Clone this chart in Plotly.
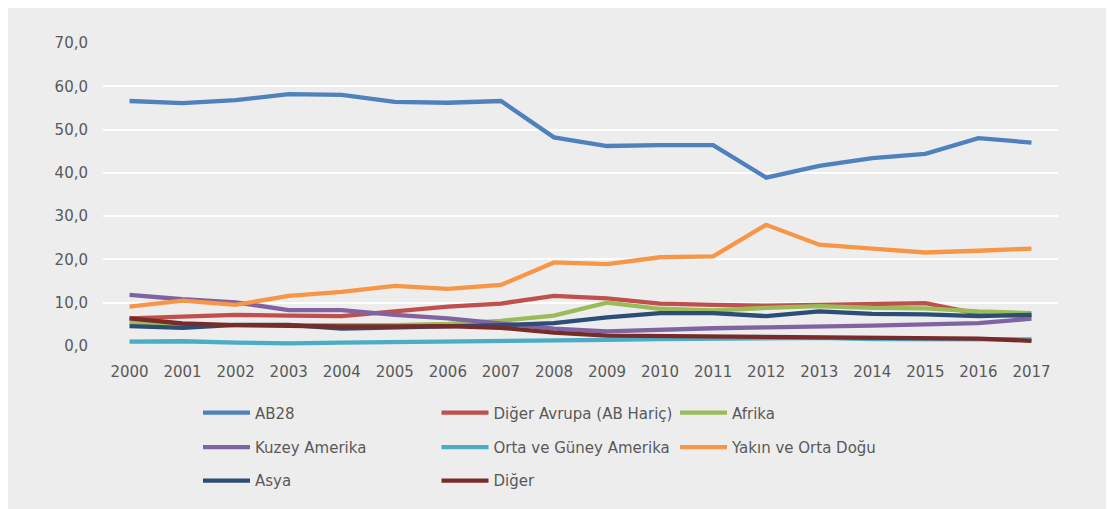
import plotly.graph_objects as go

years = list(range(2000, 2018))

ab28 = [56.6, 56.1, 56.8, 58.2, 58.0, 56.4, 56.2, 56.6, 48.2, 46.2, 46.4, 46.4, 38.9, 41.6, 43.4, 44.4, 48.0, 47.0]
diger_avrupa = [6.4, 6.7, 7.2, 7.0, 6.9, 8.0, 9.1, 9.8, 11.6, 11.0, 9.8, 9.5, 9.3, 9.5, 9.7, 9.9, 7.4, 6.9]
afrika = [5.5, 4.8, 4.8, 4.8, 4.8, 4.8, 5.1, 5.8, 7.0, 10.0, 8.6, 8.2, 8.8, 9.2, 8.8, 8.7, 8.0, 7.6]
kuzey_amerika = [11.8, 10.8, 10.1, 8.3, 8.3, 7.2, 6.4, 5.1, 4.0, 3.4, 3.8, 4.1, 4.3, 4.4, 4.7, 5.0, 5.3, 6.3]
orta_guney = [1.0, 1.1, 0.8, 0.6, 0.8, 0.9, 1.0, 1.0, 1.2, 1.4, 1.6, 1.7, 1.7, 1.9, 1.6, 1.5, 1.4, 1.5]
yakin_orta_dogu = [9.1, 10.5, 9.5, 11.6, 12.5, 13.9, 13.2, 14.1, 19.3, 18.9, 20.5, 20.7, 28.0, 23.4, 22.5, 21.6, 22.0, 22.5]
asya = [4.6, 4.2, 4.9, 4.9, 4.0, 4.2, 4.5, 4.8, 5.3, 6.6, 7.6, 7.6, 6.9, 8.0, 7.4, 7.3, 6.9, 7.2]
diger = [6.4, 5.2, 4.8, 4.6, 4.5, 4.5, 4.6, 4.2, 3.1, 2.4, 2.3, 2.3, 2.0, 2.1, 1.9, 1.9, 1.7, 1.2]

y_ticks = [0, 10, 20, 30, 40, 50, 60, 70]
y_tick_labels = ["0,0", "10,0", "20,0", "30,0", "40,0", "50,0", "60,0", "70,0"]

series = [
    ("AB28", ab28, "#4F81BD", "legend"),
    ("Diğer Avrupa (AB Hariç)", diger_avrupa, "#C0504D", "legend"),
    ("Afrika", afrika, "#9BBB59", "legend"),
    ("Kuzey Amerika", kuzey_amerika, "#8064A2", "legend2"),
    ("Orta ve Güney Amerika", orta_guney, "#4BACC6", "legend2"),
    ("Yakın ve Orta Doğu", yakin_orta_dogu, "#F79646", "legend2"),
    ("Asya", asya, "#2C4D75", "legend3"),
    ("Diğer", diger, "#772C2A", "legend3"),
]

fig = go.Figure()
for name, vals, color, leg in series:
    fig.add_trace(go.Scatter(
        x=years, y=vals, name=name, mode="lines",
        line=dict(color=color, width=4.3),
        legend=leg,
    ))

# page body has an 8px margin, so the figure is drawn 8px in from the window edge
OFF = 8
W, H = 1114 - OFF, 509 - OFF
L, R, T, B = 103 - OFF, 56, 43 - OFF, 158
pw, ph = W - L - R, H - T - B

def px_x(px):  # px in window coordinates
    return (px - OFF - L) / pw

def px_y(py):
    return (H - B - (py - OFF)) / ph

font = dict(family="DejaVu Sans", size=15, color="#595959")
bg = "#ededed"

leg_common = dict(
    orientation="h", xanchor="left", yanchor="middle",
    font=font, bgcolor="rgba(0,0,0,0)", itemwidth=47,
    entrywidth=176.5, entrywidthmode="pixels",
    tracegroupgap=0, itemclick=False, itemdoubleclick=False,
)

leg_x = px_x(198)

fig.update_layout(
    width=W, height=H,
    margin=dict(l=L, r=R, t=T, b=B, pad=0),
    paper_bgcolor=bg, plot_bgcolor=bg,
    font=font,
    showlegend=True,
    legend=dict(x=leg_x, y=px_y(419), **leg_common),
    legend2=dict(x=leg_x, y=px_y(454), **leg_common),
    legend3=dict(x=leg_x, y=px_y(488), **leg_common),
    xaxis=dict(
        range=[1999.5, 2017.5], tickmode="array", tickvals=years,
        ticktext=[str(y) for y in years], showgrid=False, zeroline=False,
        showline=False, ticks="", ticklabelstandoff=15, tickfont=font,
    ),
    yaxis=dict(
        range=[0, 70], tickmode="array", tickvals=y_ticks, ticktext=y_tick_labels,
        showgrid=True, gridcolor="#ffffff", gridwidth=1.5, zeroline=False,
        showline=False, ticks="", ticklabelstandoff=14, tickfont=font,
    ),
)

fig.write_html("out.html")
